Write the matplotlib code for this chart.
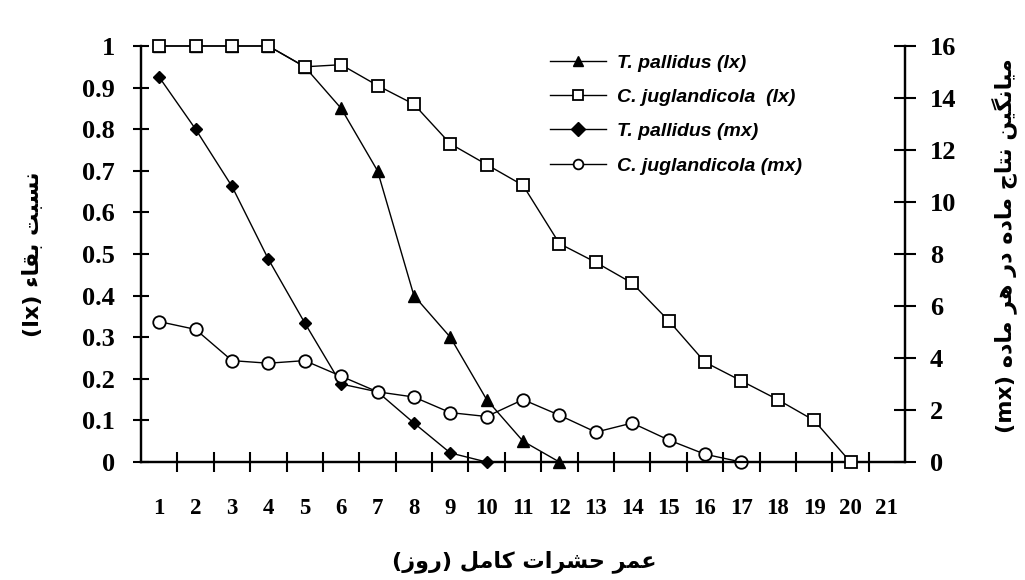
import numpy as np
import matplotlib
matplotlib.use("Agg")
import matplotlib.pyplot as plt
from matplotlib.ticker import FixedLocator, NullFormatter

# data
days = list(range(1, 22))
tp_lx = [1.0, 1.0, 1.0, 1.0, 0.95, 0.85, 0.70, 0.40, 0.30, 0.15, 0.05, 0.0]
cj_lx = [1.0, 1.0, 1.0, 1.0, 0.95, 0.955, 0.905, 0.86, 0.765, 0.715, 0.665,
         0.525, 0.48, 0.43, 0.34, 0.24, 0.195, 0.15, 0.10, 0.0]
tp_mx = [14.8, 12.8, 10.6, 7.8, 5.35, 3.0, 2.7, 1.5, 0.35, 0.0]
cj_mx = [5.4, 5.1, 3.9, 3.8, 3.9, 3.3, 2.7, 2.5, 1.9, 1.75, 2.4, 1.8, 1.15,
         1.5, 0.85, 0.3, 0.0]
labels = ["T. pallidus (lx)", "C. juglandicola  (lx)",
          "T. pallidus (mx)", "C. juglandicola (mx)"]
lx_ticks = [0, 0.1, 0.2, 0.3, 0.4, 0.5, 0.6, 0.7, 0.8, 0.9, 1]
lx_ticklabels = ["0", "0.1", "0.2", "0.3", "0.4", "0.5", "0.6", "0.7", "0.8", "0.9", "1"]
mx_ticks = [0, 2, 4, 6, 8, 10, 12, 14, 16]

xlabel_fa = "عمر حشرات کامل (روز)"
ylabel_fa = "نسبت بقاء"
y2label_fa = "میانگین نتاج ماده در هر ماده"


# minimal persian shaping (matplotlib has no bidi / joining)
FORMS = {
    "\u0627": ("\uFE8D", "\uFE8E", None, None),
    "\u0628": ("\uFE8F", "\uFE90", "\uFE91", "\uFE92"),
    "\u062A": ("\uFE95", "\uFE96", "\uFE97", "\uFE98"),
    "\u062C": ("\uFE9D", "\uFE9E", "\uFE9F", "\uFEA0"),
    "\u062D": ("\uFEA1", "\uFEA2", "\uFEA3", "\uFEA4"),
    "\u062F": ("\uFEA9", "\uFEAA", None, None),
    "\u0631": ("\uFEAD", "\uFEAE", None, None),
    "\u0632": ("\uFEAF", "\uFEB0", None, None),
    "\u0633": ("\uFEB1", "\uFEB2", "\uFEB3", "\uFEB4"),
    "\u0634": ("\uFEB5", "\uFEB6", "\uFEB7", "\uFEB8"),
    "\u0639": ("\uFEC9", "\uFECA", "\uFECB", "\uFECC"),
    "\u0642": ("\uFED5", "\uFED6", "\uFED7", "\uFED8"),
    "\u0644": ("\uFEDD", "\uFEDE", "\uFEDF", "\uFEE0"),
    "\u0645": ("\uFEE1", "\uFEE2", "\uFEE3", "\uFEE4"),
    "\u0646": ("\uFEE5", "\uFEE6", "\uFEE7", "\uFEE8"),
    "\u0647": ("\uFEE9", "\uFEEA", "\uFEEB", "\uFEEC"),
    "\u0648": ("\uFEED", "\uFEEE", None, None),
    "\u06A9": ("\uFB8E", "\uFB8F", "\uFB90", "\uFB91"),
    "\u06AF": ("\uFB92", "\uFB93", "\uFB94", "\uFB95"),
    "\u06CC": ("\uFBFC", "\uFBFD", "\uFBFE", "\uFBFF"),
}
MIRROR = {"(": ")", ")": "("}


def shape(text):
    out = []
    for i, ch in enumerate(text):
        if ch not in FORMS:
            out.append(MIRROR.get(ch, ch))
            continue
        prev = text[i - 1] if i > 0 else ""
        nxt = text[i + 1] if i + 1 < len(text) else ""
        f = FORMS[ch]
        join_prev = prev in FORMS and FORMS[prev][2] is not None
        join_next = f[2] is not None and nxt in FORMS
        if join_prev and join_next:
            out.append(f[3])
        elif join_prev:
            out.append(f[1])
        elif join_next:
            out.append(f[2])
        else:
            out.append(f[0])
    return "".join(out[::-1])


fa_font = dict(family=["DejaVu Sans"], fontweight="bold", fontsize=16)
xtick_font = dict(family="Liberation Serif", fontweight="bold", fontsize=16.5)
ytick_font = dict(family="Liberation Serif", fontweight="bold", fontsize=19)

fig = plt.figure(figsize=(10.25, 5.8), dpi=100)
ax = fig.add_axes([0.1376, 0.2034, 0.7454, 0.7173])
ax2 = ax.twinx()

ax.set_xlim(0.5, 21.5)
ax.set_ylim(0, 1)
ax2.set_ylim(0, 16)

h2, = ax.plot(days[:len(cj_lx)], cj_lx, color="black", lw=1.0, marker="s",
              ms=9, mfc="white", mec="black", mew=1.3, clip_on=False, zorder=4)
h1, = ax.plot(days[:len(tp_lx)], tp_lx, color="black", lw=1.0, marker="^",
              ms=8, mfc="black", mec="black", clip_on=False, zorder=3)
h3, = ax2.plot(days[:len(tp_mx)], tp_mx, color="black", lw=1.0, marker="D",
               ms=6, mfc="black", mec="black", clip_on=False, zorder=3)
h4, = ax2.plot(days[:len(cj_mx)], cj_mx, color="black", lw=1.0, marker="o",
               ms=9, mfc="white", mec="black", mew=1.3, clip_on=False, zorder=4)
ax.set_zorder(ax2.get_zorder() + 1)
ax.patch.set_visible(False)

# x axis: labels at days, tick marks between days
ax.set_xticks(days)
ax.set_xticklabels([str(d) for d in days], **xtick_font)
ax.xaxis.set_minor_locator(FixedLocator(np.arange(1.5, 21.5, 1.0)))
ax.xaxis.set_minor_formatter(NullFormatter())
ax.tick_params(axis="x", which="major", length=0, pad=26)
ax.tick_params(axis="x", which="minor", direction="inout", length=14, width=1.5)

ax.set_yticks(lx_ticks)
ax.set_yticklabels(lx_ticklabels, **ytick_font)
ax.tick_params(axis="y", direction="inout", length=12, width=1.5, pad=13)

ax2.set_yticks(mx_ticks)
ax2.set_yticklabels([str(t) for t in mx_ticks], **ytick_font)
ax2.tick_params(axis="y", direction="inout", length=16, width=1.5, pad=10)

for a in (ax, ax2):
    a.spines["top"].set_visible(False)
    for s in ("left", "right", "bottom"):
        a.spines[s].set_linewidth(1.6)

leg = ax.legend([h1, h2, h3, h4], labels, loc="upper left",
                bbox_to_anchor=(0.5366, 0.907), bbox_transform=fig.transFigure,
                frameon=False, handlelength=2.9, handletextpad=0.57,
                labelspacing=0.86, borderaxespad=0, borderpad=0,
                prop=dict(family="Liberation Sans", style="italic",
                          weight="bold", size=14))
for hnd in leg.legend_handles:
    hnd.set_markersize(7)

fig.text(0.511, 0.031, shape(xlabel_fa), ha="center", va="center", **fa_font)
fig.text(0.032, 0.562, "(lx) " + shape(ylabel_fa), ha="center", va="center",
         rotation=90, **fa_font)
fig.text(0.98, 0.577, "(mx) " + shape(y2label_fa), ha="center", va="center",
         rotation=90, **fa_font)

fig.savefig("out.png", dpi=100)
